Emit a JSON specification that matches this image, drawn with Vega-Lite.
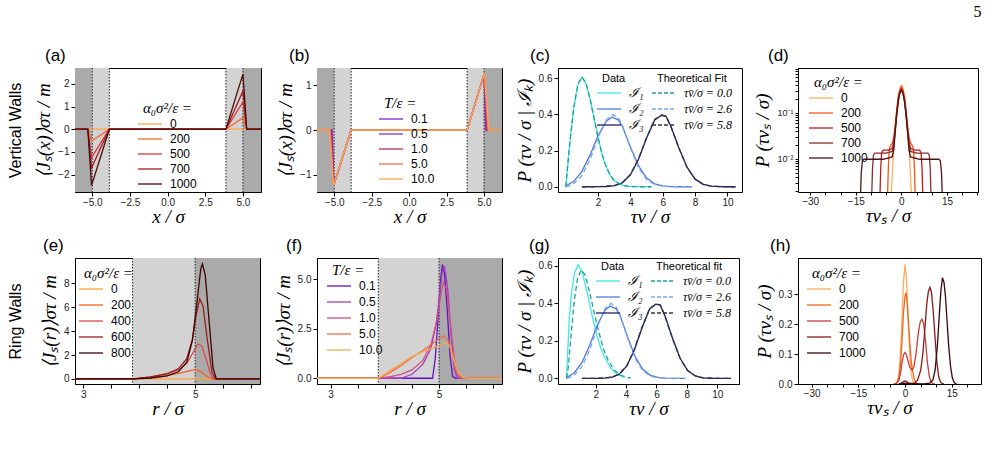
{
"$schema":"https://vega.github.io/schema/vega-lite/v6.json",
"background":"white",
"padding":{"left":6,"top":4,"right":4,"bottom":4},
"title":{"text":"5","anchor":"end","font":"Liberation Serif","fontSize":16,"fontWeight":"normal","offset":26},
"config":{
 "view":{"stroke":"black","strokeWidth":1},
 "axis":{"grid":false,"domainColor":"black","tickColor":"black","tickSize":4,"labelFont":"Liberation Sans","labelFontSize":10,"labelColor":"#222","titleFont":"Liberation Serif","titleFontStyle":"italic","titleFontWeight":"normal","titleFontSize":19,"titleColor":"black","labelPadding":2,"titlePadding":4},
 "axisX":{"titlePadding":0,"labelPadding":1},
 "legend":{"orient":"none","padding":0,"labelFont":"Liberation Sans","labelFontSize":12,"titleFont":"Liberation Serif","titleFontStyle":"italic","titleFontWeight":"normal","titleFontSize":15,"titleColor":"black","labelColor":"black","symbolType":"M-2,0L2,0","symbolSize":144,"symbolStrokeWidth":1.6,"rowPadding":2,"titlePadding":1,"labelOffset":13,"titleLimit":300},
 "title":{"font":"Liberation Sans","fontSize":17,"fontWeight":"normal","color":"black"},
 "line":{"strokeWidth":1.3,"clip":true}
},
"datasets":{
 "wv":[{"x":-6.15,"x2":-5,"g":"d"},{"x":-5,"x2":-3.87,"g":"l"},{"x":3.87,"x2":5,"g":"l"},{"x":5,"x2":6.2,"g":"d"}],
 "wvl":[{"x":-5},{"x":-3.87},{"x":3.87},{"x":5}],
 "wr":[{"x":3.88,"x2":5,"g":"l"},{"x":5,"x2":6.16,"g":"d"}],
 "wrl":[{"x":3.88},{"x":5}],
 "rowlab":[{"r":0}],
 "a":[
  {"s":"0","x":-6.15,"y":0},{"s":"0","x":6.2,"y":0},
  {"s":"200","x":-6.15,"y":0},{"s":"200","x":-5.3,"y":0},{"s":"200","x":-5.05,"y":-0.52},{"s":"200","x":-3.87,"y":0},{"s":"200","x":3.87,"y":0},{"s":"200","x":5.0,"y":0.5},{"s":"200","x":5.25,"y":0},{"s":"200","x":6.2,"y":0},
  {"s":"500","x":-6.15,"y":0},{"s":"500","x":-5.3,"y":0},{"s":"500","x":-5.05,"y":-1.25},{"s":"500","x":-3.87,"y":0},{"s":"500","x":3.87,"y":0},{"s":"500","x":5.0,"y":1.2},{"s":"500","x":5.25,"y":0},{"s":"500","x":6.2,"y":0},
  {"s":"700","x":-6.15,"y":0},{"s":"700","x":-5.3,"y":0},{"s":"700","x":-5.05,"y":-1.7},{"s":"700","x":-3.87,"y":0},{"s":"700","x":3.87,"y":0},{"s":"700","x":5.0,"y":1.68},{"s":"700","x":5.25,"y":0},{"s":"700","x":6.2,"y":0},
  {"s":"1000","x":-6.15,"y":0},{"s":"1000","x":-5.3,"y":0},{"s":"1000","x":-5.05,"y":-2.48},{"s":"1000","x":-3.87,"y":0},{"s":"1000","x":3.87,"y":0},{"s":"1000","x":5.0,"y":2.43},{"s":"1000","x":5.25,"y":0},{"s":"1000","x":6.2,"y":0}
 ],
 "b":[
  {"s":"0.1","x":-6.15,"y":0},{"s":"0.1","x":-5.15,"y":0},{"s":"0.1","x":-5.02,"y":-1.22},{"s":"0.1","x":-3.87,"y":0},{"s":"0.1","x":3.87,"y":0},{"s":"0.1","x":5.0,"y":1.24},{"s":"0.1","x":5.12,"y":0},{"s":"0.1","x":6.2,"y":0},
  {"s":"0.5","x":-6.15,"y":0},{"s":"0.5","x":-5.18,"y":0},{"s":"0.5","x":-5.02,"y":-1.22},{"s":"0.5","x":-3.87,"y":0},{"s":"0.5","x":3.87,"y":0},{"s":"0.5","x":5.0,"y":1.24},{"s":"0.5","x":5.16,"y":0},{"s":"0.5","x":6.2,"y":0},
  {"s":"1.0","x":-6.15,"y":0},{"s":"1.0","x":-5.22,"y":0},{"s":"1.0","x":-5.03,"y":-1.22},{"s":"1.0","x":-3.87,"y":0},{"s":"1.0","x":3.87,"y":0},{"s":"1.0","x":5.01,"y":1.25},{"s":"1.0","x":5.2,"y":0},{"s":"1.0","x":6.2,"y":0},
  {"s":"5.0","x":-6.15,"y":0},{"s":"5.0","x":-5.27,"y":0},{"s":"5.0","x":-5.04,"y":-1.23},{"s":"5.0","x":-3.87,"y":0},{"s":"5.0","x":3.87,"y":0},{"s":"5.0","x":5.02,"y":1.26},{"s":"5.0","x":5.26,"y":0},{"s":"5.0","x":6.2,"y":0},
  {"s":"10.0","x":-6.15,"y":0},{"s":"10.0","x":-5.32,"y":0},{"s":"10.0","x":-5.05,"y":-1.24},{"s":"10.0","x":-3.87,"y":0},{"s":"10.0","x":3.87,"y":0},{"s":"10.0","x":5.03,"y":1.27},{"s":"10.0","x":5.32,"y":0},{"s":"10.0","x":6.2,"y":0}
 ],
 "cd":[
  {"s":"ℐ₁","x":0,"y":0},{"s":"ℐ₁","x":0.25,"y":0.242},{"s":"ℐ₁","x":0.5,"y":0.441},{"s":"ℐ₁","x":0.75,"y":0.566},{"s":"ℐ₁","x":1.0,"y":0.607},{"s":"ℐ₁","x":1.25,"y":0.572},{"s":"ℐ₁","x":1.5,"y":0.487},{"s":"ℐ₁","x":1.75,"y":0.379},{"s":"ℐ₁","x":2.0,"y":0.271},{"s":"ℐ₁","x":2.25,"y":0.179},{"s":"ℐ₁","x":2.5,"y":0.11},{"s":"ℐ₁","x":2.75,"y":0.063},{"s":"ℐ₁","x":3.0,"y":0.033},{"s":"ℐ₁","x":3.5,"y":0.008},{"s":"ℐ₁","x":4.0,"y":0.0013},{"s":"ℐ₁","x":4.5,"y":0.0002},{"s":"ℐ₁","x":5.3,"y":0},
  {"s":"ℐ₂","x":0,"y":0.004},{"s":"ℐ₂","x":0.5,"y":0.03},{"s":"ℐ₂","x":1.0,"y":0.085},{"s":"ℐ₂","x":1.5,"y":0.175},{"s":"ℐ₂","x":2.0,"y":0.283},{"s":"ℐ₂","x":2.5,"y":0.362},{"s":"ℐ₂","x":2.85,"y":0.385},{"s":"ℐ₂","x":3.25,"y":0.37},{"s":"ℐ₂","x":3.5,"y":0.335},{"s":"ℐ₂","x":4.0,"y":0.22},{"s":"ℐ₂","x":4.5,"y":0.115},{"s":"ℐ₂","x":5.0,"y":0.048},{"s":"ℐ₂","x":5.5,"y":0.016},{"s":"ℐ₂","x":6.0,"y":0.005},{"s":"ℐ₂","x":6.5,"y":0.001},{"s":"ℐ₂","x":7.0,"y":0},{"s":"ℐ₂","x":7.8,"y":0},
  {"s":"ℐ₃","x":1.0,"y":0},{"s":"ℐ₃","x":2.0,"y":0.0002},{"s":"ℐ₃","x":2.5,"y":0.0015},{"s":"ℐ₃","x":3.0,"y":0.006},{"s":"ℐ₃","x":3.5,"y":0.022},{"s":"ℐ₃","x":4.0,"y":0.066},{"s":"ℐ₃","x":4.5,"y":0.152},{"s":"ℐ₃","x":5.0,"y":0.27},{"s":"ℐ₃","x":5.5,"y":0.37},{"s":"ℐ₃","x":5.9,"y":0.395},{"s":"ℐ₃","x":6.2,"y":0.39},{"s":"ℐ₃","x":6.5,"y":0.335},{"s":"ℐ₃","x":7.0,"y":0.215},{"s":"ℐ₃","x":7.5,"y":0.108},{"s":"ℐ₃","x":8.0,"y":0.042},{"s":"ℐ₃","x":8.5,"y":0.013},{"s":"ℐ₃","x":9.0,"y":0.003},{"s":"ℐ₃","x":9.5,"y":0.0005},{"s":"ℐ₃","x":10.0,"y":0},{"s":"ℐ₃","x":10.5,"y":0}
 ],
 "cf":[
  {"s":"τv̄/σ = 0.0","x":0,"y":0},{"s":"τv̄/σ = 0.0","x":0.25,"y":0.242},{"s":"τv̄/σ = 0.0","x":0.5,"y":0.441},{"s":"τv̄/σ = 0.0","x":0.75,"y":0.566},{"s":"τv̄/σ = 0.0","x":1.0,"y":0.607},{"s":"τv̄/σ = 0.0","x":1.25,"y":0.572},{"s":"τv̄/σ = 0.0","x":1.5,"y":0.487},{"s":"τv̄/σ = 0.0","x":1.75,"y":0.379},{"s":"τv̄/σ = 0.0","x":2.0,"y":0.271},{"s":"τv̄/σ = 0.0","x":2.25,"y":0.179},{"s":"τv̄/σ = 0.0","x":2.5,"y":0.11},{"s":"τv̄/σ = 0.0","x":2.75,"y":0.063},{"s":"τv̄/σ = 0.0","x":3.0,"y":0.033},{"s":"τv̄/σ = 0.0","x":3.5,"y":0.008},{"s":"τv̄/σ = 0.0","x":4.0,"y":0.0013},{"s":"τv̄/σ = 0.0","x":4.5,"y":0.0002},{"s":"τv̄/σ = 0.0","x":5.3,"y":0},
  {"s":"τv̄/σ = 2.6","x":0,"y":0},{"s":"τv̄/σ = 2.6","x":0.25,"y":0.006},{"s":"τv̄/σ = 2.6","x":0.5,"y":0.018},{"s":"τv̄/σ = 2.6","x":1.0,"y":0.062},{"s":"τv̄/σ = 2.6","x":1.5,"y":0.15},{"s":"τv̄/σ = 2.6","x":2.0,"y":0.272},{"s":"τv̄/σ = 2.6","x":2.5,"y":0.37},{"s":"τv̄/σ = 2.6","x":2.9,"y":0.4},{"s":"τv̄/σ = 2.6","x":3.25,"y":0.38},{"s":"τv̄/σ = 2.6","x":3.5,"y":0.34},{"s":"τv̄/σ = 2.6","x":4.0,"y":0.215},{"s":"τv̄/σ = 2.6","x":4.5,"y":0.105},{"s":"τv̄/σ = 2.6","x":5.0,"y":0.04},{"s":"τv̄/σ = 2.6","x":5.5,"y":0.012},{"s":"τv̄/σ = 2.6","x":6.0,"y":0.003},{"s":"τv̄/σ = 2.6","x":6.5,"y":0.0005},{"s":"τv̄/σ = 2.6","x":7.0,"y":0},{"s":"τv̄/σ = 2.6","x":7.8,"y":0},
  {"s":"τv̄/σ = 5.8","x":1.0,"y":0},{"s":"τv̄/σ = 5.8","x":2.0,"y":0.0002},{"s":"τv̄/σ = 5.8","x":3.0,"y":0.006},{"s":"τv̄/σ = 5.8","x":3.5,"y":0.023},{"s":"τv̄/σ = 5.8","x":4.0,"y":0.068},{"s":"τv̄/σ = 5.8","x":4.5,"y":0.155},{"s":"τv̄/σ = 5.8","x":5.0,"y":0.273},{"s":"τv̄/σ = 5.8","x":5.5,"y":0.372},{"s":"τv̄/σ = 5.8","x":5.95,"y":0.397},{"s":"τv̄/σ = 5.8","x":6.2,"y":0.39},{"s":"τv̄/σ = 5.8","x":6.5,"y":0.333},{"s":"τv̄/σ = 5.8","x":7.0,"y":0.213},{"s":"τv̄/σ = 5.8","x":7.5,"y":0.107},{"s":"τv̄/σ = 5.8","x":8.0,"y":0.042},{"s":"τv̄/σ = 5.8","x":8.5,"y":0.013},{"s":"τv̄/σ = 5.8","x":9.0,"y":0.003},{"s":"τv̄/σ = 5.8","x":10.0,"y":0},{"s":"τv̄/σ = 5.8","x":10.5,"y":0}
 ],
 "d":[
  {"s":"0","x":-3.5,"y":0.0009},{"s":"0","x":-3,"y":0.0044},{"s":"0","x":-2.5,"y":0.0175},{"s":"0","x":-2,"y":0.054},{"s":"0","x":-1.5,"y":0.13},{"s":"0","x":-1,"y":0.243},{"s":"0","x":-0.5,"y":0.353},{"s":"0","x":0,"y":0.4},{"s":"0","x":0.5,"y":0.353},{"s":"0","x":1,"y":0.243},{"s":"0","x":1.5,"y":0.13},{"s":"0","x":2,"y":0.054},{"s":"0","x":2.5,"y":0.0175},{"s":"0","x":3,"y":0.0044},{"s":"0","x":3.5,"y":0.0009},
  {"s":"200","x":-4.6,"y":0.0012},{"s":"200","x":-4.3,"y":0.006},{"s":"200","x":-4.0,"y":0.016},{"s":"200","x":-3.5,"y":0.02},{"s":"200","x":-3,"y":0.022},{"s":"200","x":-2.5,"y":0.03},{"s":"200","x":-2,"y":0.055},{"s":"200","x":-1.5,"y":0.115},{"s":"200","x":-1,"y":0.22},{"s":"200","x":-0.5,"y":0.32},{"s":"200","x":0,"y":0.37},{"s":"200","x":0.5,"y":0.32},{"s":"200","x":1,"y":0.22},{"s":"200","x":1.5,"y":0.115},{"s":"200","x":2,"y":0.055},{"s":"200","x":2.5,"y":0.03},{"s":"200","x":3,"y":0.022},{"s":"200","x":3.5,"y":0.02},{"s":"200","x":4.0,"y":0.016},{"s":"200","x":4.3,"y":0.006},{"s":"200","x":4.6,"y":0.0012},
  {"s":"500","x":-7.1,"y":0.0012},{"s":"500","x":-6.8,"y":0.006},{"s":"500","x":-6.5,"y":0.0135},{"s":"500","x":-6,"y":0.0155},{"s":"500","x":-4,"y":0.0155},{"s":"500","x":-3,"y":0.017},{"s":"500","x":-2.5,"y":0.024},{"s":"500","x":-2,"y":0.048},{"s":"500","x":-1.5,"y":0.105},{"s":"500","x":-1,"y":0.2},{"s":"500","x":-0.5,"y":0.29},{"s":"500","x":0,"y":0.34},{"s":"500","x":0.5,"y":0.29},{"s":"500","x":1,"y":0.2},{"s":"500","x":1.5,"y":0.105},{"s":"500","x":2,"y":0.048},{"s":"500","x":2.5,"y":0.024},{"s":"500","x":3,"y":0.017},{"s":"500","x":4,"y":0.0155},{"s":"500","x":6,"y":0.0155},{"s":"500","x":6.5,"y":0.0135},{"s":"500","x":6.8,"y":0.006},{"s":"500","x":7.1,"y":0.0012},
  {"s":"700","x":-9.8,"y":0.0012},{"s":"700","x":-9.5,"y":0.006},{"s":"700","x":-9.2,"y":0.012},{"s":"700","x":-8.7,"y":0.0133},{"s":"700","x":-5,"y":0.0133},{"s":"700","x":-3,"y":0.0145},{"s":"700","x":-2.5,"y":0.02},{"s":"700","x":-2,"y":0.044},{"s":"700","x":-1.5,"y":0.1},{"s":"700","x":-1,"y":0.19},{"s":"700","x":-0.5,"y":0.28},{"s":"700","x":0,"y":0.32},{"s":"700","x":0.5,"y":0.28},{"s":"700","x":1,"y":0.19},{"s":"700","x":1.5,"y":0.1},{"s":"700","x":2,"y":0.044},{"s":"700","x":2.5,"y":0.02},{"s":"700","x":3,"y":0.0145},{"s":"700","x":5,"y":0.0133},{"s":"700","x":8.7,"y":0.0133},{"s":"700","x":9.2,"y":0.012},{"s":"700","x":9.5,"y":0.006},{"s":"700","x":9.8,"y":0.0012},
  {"s":"1000","x":-13.5,"y":0.0012},{"s":"1000","x":-13.2,"y":0.005},{"s":"1000","x":-12.8,"y":0.0092},{"s":"1000","x":-12.3,"y":0.0098},{"s":"1000","x":-6,"y":0.0098},{"s":"1000","x":-3,"y":0.011},{"s":"1000","x":-2.5,"y":0.016},{"s":"1000","x":-2,"y":0.04},{"s":"1000","x":-1.5,"y":0.095},{"s":"1000","x":-1,"y":0.18},{"s":"1000","x":-0.5,"y":0.27},{"s":"1000","x":0,"y":0.31},{"s":"1000","x":0.5,"y":0.27},{"s":"1000","x":1,"y":0.18},{"s":"1000","x":1.5,"y":0.095},{"s":"1000","x":2,"y":0.04},{"s":"1000","x":2.5,"y":0.016},{"s":"1000","x":3,"y":0.011},{"s":"1000","x":6,"y":0.0098},{"s":"1000","x":12.3,"y":0.0098},{"s":"1000","x":12.8,"y":0.0092},{"s":"1000","x":13.2,"y":0.005},{"s":"1000","x":13.5,"y":0.0012}
 ],
 "e":[
  {"s":"0","x":2.85,"y":0},{"s":"0","x":6.16,"y":0},
  {"s":"200","x":2.85,"y":0},{"s":"200","x":3.9,"y":0},{"s":"200","x":4.2,"y":0.1},{"s":"200","x":4.5,"y":0.28},{"s":"200","x":4.8,"y":0.58},{"s":"200","x":5.0,"y":0.8},{"s":"200","x":5.1,"y":0.62},{"s":"200","x":5.2,"y":0.25},{"s":"200","x":5.3,"y":0.02},{"s":"200","x":5.4,"y":0},{"s":"200","x":6.16,"y":0},
  {"s":"400","x":2.85,"y":0},{"s":"400","x":3.9,"y":0},{"s":"400","x":4.2,"y":0.15},{"s":"400","x":4.5,"y":0.42},{"s":"400","x":4.7,"y":0.75},{"s":"400","x":4.85,"y":1.3},{"s":"400","x":4.95,"y":2.1},{"s":"400","x":5.05,"y":2.93},{"s":"400","x":5.12,"y":2.75},{"s":"400","x":5.2,"y":1.6},{"s":"400","x":5.27,"y":0.45},{"s":"400","x":5.33,"y":0},{"s":"400","x":6.16,"y":0},
  {"s":"600","x":2.85,"y":0},{"s":"600","x":3.9,"y":0},{"s":"600","x":4.2,"y":0.18},{"s":"600","x":4.5,"y":0.45},{"s":"600","x":4.7,"y":0.85},{"s":"600","x":4.85,"y":1.7},{"s":"600","x":4.95,"y":3.3},{"s":"600","x":5.02,"y":5.4},{"s":"600","x":5.08,"y":6.7},{"s":"600","x":5.14,"y":6.1},{"s":"600","x":5.22,"y":3.2},{"s":"600","x":5.3,"y":0.6},{"s":"600","x":5.36,"y":0},{"s":"600","x":6.16,"y":0},
  {"s":"800","x":2.85,"y":0},{"s":"800","x":3.9,"y":0},{"s":"800","x":4.2,"y":0.08},{"s":"800","x":4.5,"y":0.25},{"s":"800","x":4.7,"y":0.6},{"s":"800","x":4.85,"y":1.4},{"s":"800","x":4.95,"y":3.2},{"s":"800","x":5.03,"y":6.3},{"s":"800","x":5.1,"y":9.2},{"s":"800","x":5.13,"y":9.6},{"s":"800","x":5.18,"y":8.7},{"s":"800","x":5.25,"y":4.8},{"s":"800","x":5.32,"y":0.9},{"s":"800","x":5.38,"y":0},{"s":"800","x":6.16,"y":0}
 ],
 "f":[
  {"s":"0.1","x":2.75,"y":0},{"s":"0.1","x":4.88,"y":0},{"s":"0.1","x":4.93,"y":1.0},{"s":"0.1","x":4.98,"y":3.0},{"s":"0.1","x":5.03,"y":5.0},{"s":"0.1","x":5.06,"y":5.75},{"s":"0.1","x":5.1,"y":5.3},{"s":"0.1","x":5.15,"y":3.5},{"s":"0.1","x":5.2,"y":1.2},{"s":"0.1","x":5.25,"y":0.1},{"s":"0.1","x":5.3,"y":0},{"s":"0.1","x":6.16,"y":0},
  {"s":"0.5","x":2.75,"y":0},{"s":"0.5","x":4.3,"y":0},{"s":"0.5","x":4.5,"y":0.2},{"s":"0.5","x":4.7,"y":0.7},{"s":"0.5","x":4.85,"y":1.5},{"s":"0.5","x":4.95,"y":2.8},{"s":"0.5","x":5.02,"y":4.5},{"s":"0.5","x":5.07,"y":5.6},{"s":"0.5","x":5.1,"y":5.65},{"s":"0.5","x":5.16,"y":4.5},{"s":"0.5","x":5.22,"y":2.2},{"s":"0.5","x":5.28,"y":0.5},{"s":"0.5","x":5.33,"y":0},{"s":"0.5","x":6.16,"y":0},
  {"s":"1.0","x":2.75,"y":0},{"s":"1.0","x":3.88,"y":0},{"s":"1.0","x":4.1,"y":0.08},{"s":"1.0","x":4.3,"y":0.2},{"s":"1.0","x":4.5,"y":0.42},{"s":"1.0","x":4.7,"y":0.9},{"s":"1.0","x":4.85,"y":1.7},{"s":"1.0","x":4.95,"y":2.8},{"s":"1.0","x":5.03,"y":4.2},{"s":"1.0","x":5.08,"y":4.85},{"s":"1.0","x":5.14,"y":4.5},{"s":"1.0","x":5.2,"y":3.0},{"s":"1.0","x":5.27,"y":1.2},{"s":"1.0","x":5.33,"y":0.2},{"s":"1.0","x":5.4,"y":0},{"s":"1.0","x":6.16,"y":0},
  {"s":"5.0","x":2.75,"y":0},{"s":"5.0","x":3.88,"y":0},{"s":"5.0","x":4.1,"y":0.3},{"s":"5.0","x":4.3,"y":0.65},{"s":"5.0","x":4.5,"y":1.05},{"s":"5.0","x":4.7,"y":1.4},{"s":"5.0","x":4.9,"y":1.8},{"s":"5.0","x":5.0,"y":2.0},{"s":"5.0","x":5.09,"y":2.14},{"s":"5.0","x":5.17,"y":1.9},{"s":"5.0","x":5.25,"y":1.1},{"s":"5.0","x":5.32,"y":0.4},{"s":"5.0","x":5.42,"y":0.05},{"s":"5.0","x":5.5,"y":0},{"s":"5.0","x":6.16,"y":0},
  {"s":"10.0","x":2.75,"y":0},{"s":"10.0","x":3.88,"y":0},{"s":"10.0","x":4.1,"y":0.4},{"s":"10.0","x":4.3,"y":0.75},{"s":"10.0","x":4.5,"y":1.1},{"s":"10.0","x":4.7,"y":1.35},{"s":"10.0","x":4.9,"y":1.55},{"s":"10.0","x":5.05,"y":1.72},{"s":"10.0","x":5.12,"y":1.8},{"s":"10.0","x":5.2,"y":1.6},{"s":"10.0","x":5.28,"y":0.9},{"s":"10.0","x":5.35,"y":0.3},{"s":"10.0","x":5.45,"y":0.03},{"s":"10.0","x":5.55,"y":0},{"s":"10.0","x":6.16,"y":0}
 ],
 "gd":[
  {"s":"ℐ₁","x":0.08,"y":0},{"s":"ℐ₁","x":0.15,"y":0.12},{"s":"ℐ₁","x":0.25,"y":0.3},{"s":"ℐ₁","x":0.4,"y":0.45},{"s":"ℐ₁","x":0.6,"y":0.56},{"s":"ℐ₁","x":0.84,"y":0.605},{"s":"ℐ₁","x":1.1,"y":0.57},{"s":"ℐ₁","x":1.4,"y":0.47},{"s":"ℐ₁","x":1.7,"y":0.36},{"s":"ℐ₁","x":2.0,"y":0.25},{"s":"ℐ₁","x":2.3,"y":0.17},{"s":"ℐ₁","x":2.6,"y":0.11},{"s":"ℐ₁","x":3.0,"y":0.055},{"s":"ℐ₁","x":3.4,"y":0.022},{"s":"ℐ₁","x":3.9,"y":0.005},
  {"s":"ℐ₂","x":0.1,"y":0.004},{"s":"ℐ₂","x":0.6,"y":0.03},{"s":"ℐ₂","x":1.1,"y":0.085},{"s":"ℐ₂","x":1.6,"y":0.175},{"s":"ℐ₂","x":2.1,"y":0.283},{"s":"ℐ₂","x":2.6,"y":0.362},{"s":"ℐ₂","x":2.95,"y":0.385},{"s":"ℐ₂","x":3.35,"y":0.37},{"s":"ℐ₂","x":3.6,"y":0.335},{"s":"ℐ₂","x":4.1,"y":0.22},{"s":"ℐ₂","x":4.6,"y":0.115},{"s":"ℐ₂","x":5.1,"y":0.048},{"s":"ℐ₂","x":5.6,"y":0.016},{"s":"ℐ₂","x":6.1,"y":0.005},{"s":"ℐ₂","x":6.6,"y":0.001},{"s":"ℐ₂","x":7.1,"y":0},{"s":"ℐ₂","x":7.9,"y":0},
  {"s":"ℐ₃","x":1.1,"y":0},{"s":"ℐ₃","x":2.05,"y":0.0002},{"s":"ℐ₃","x":2.55,"y":0.0015},{"s":"ℐ₃","x":3.05,"y":0.006},{"s":"ℐ₃","x":3.55,"y":0.022},{"s":"ℐ₃","x":4.05,"y":0.066},{"s":"ℐ₃","x":4.55,"y":0.152},{"s":"ℐ₃","x":5.05,"y":0.27},{"s":"ℐ₃","x":5.55,"y":0.37},{"s":"ℐ₃","x":5.95,"y":0.395},{"s":"ℐ₃","x":6.25,"y":0.39},{"s":"ℐ₃","x":6.55,"y":0.335},{"s":"ℐ₃","x":7.05,"y":0.215},{"s":"ℐ₃","x":7.55,"y":0.108},{"s":"ℐ₃","x":8.05,"y":0.042},{"s":"ℐ₃","x":8.55,"y":0.013},{"s":"ℐ₃","x":9.05,"y":0.003},{"s":"ℐ₃","x":9.55,"y":0.0005},{"s":"ℐ₃","x":10.05,"y":0},{"s":"ℐ₃","x":10.9,"y":0}
 ],
 "gf":[
  {"s":"τv̄/σ = 0.0","x":0.08,"y":0},{"s":"τv̄/σ = 0.0","x":0.2,"y":0.06},{"s":"τv̄/σ = 0.0","x":0.4,"y":0.25},{"s":"τv̄/σ = 0.0","x":0.6,"y":0.42},{"s":"τv̄/σ = 0.0","x":0.8,"y":0.53},{"s":"τv̄/σ = 0.0","x":1.05,"y":0.578},{"s":"τv̄/σ = 0.0","x":1.3,"y":0.55},{"s":"τv̄/σ = 0.0","x":1.6,"y":0.46},{"s":"τv̄/σ = 0.0","x":1.9,"y":0.35},{"s":"τv̄/σ = 0.0","x":2.2,"y":0.25},{"s":"τv̄/σ = 0.0","x":2.5,"y":0.16},{"s":"τv̄/σ = 0.0","x":2.8,"y":0.1},{"s":"τv̄/σ = 0.0","x":3.2,"y":0.045},{"s":"τv̄/σ = 0.0","x":3.6,"y":0.018},{"s":"τv̄/σ = 0.0","x":4.0,"y":0.006},{"s":"τv̄/σ = 0.0","x":4.3,"y":0.002},
  {"s":"τv̄/σ = 2.6","x":0.1,"y":0},{"s":"τv̄/σ = 2.6","x":0.35,"y":0.006},{"s":"τv̄/σ = 2.6","x":0.6,"y":0.018},{"s":"τv̄/σ = 2.6","x":1.1,"y":0.062},{"s":"τv̄/σ = 2.6","x":1.6,"y":0.15},{"s":"τv̄/σ = 2.6","x":2.1,"y":0.272},{"s":"τv̄/σ = 2.6","x":2.6,"y":0.37},{"s":"τv̄/σ = 2.6","x":3.0,"y":0.4},{"s":"τv̄/σ = 2.6","x":3.35,"y":0.38},{"s":"τv̄/σ = 2.6","x":3.6,"y":0.34},{"s":"τv̄/σ = 2.6","x":4.1,"y":0.215},{"s":"τv̄/σ = 2.6","x":4.6,"y":0.105},{"s":"τv̄/σ = 2.6","x":5.1,"y":0.04},{"s":"τv̄/σ = 2.6","x":5.6,"y":0.012},{"s":"τv̄/σ = 2.6","x":6.1,"y":0.003},{"s":"τv̄/σ = 2.6","x":6.6,"y":0.0005},{"s":"τv̄/σ = 2.6","x":7.1,"y":0},{"s":"τv̄/σ = 2.6","x":7.9,"y":0},
  {"s":"τv̄/σ = 5.8","x":1.1,"y":0},{"s":"τv̄/σ = 5.8","x":2.05,"y":0.0002},{"s":"τv̄/σ = 5.8","x":3.05,"y":0.006},{"s":"τv̄/σ = 5.8","x":3.55,"y":0.023},{"s":"τv̄/σ = 5.8","x":4.05,"y":0.068},{"s":"τv̄/σ = 5.8","x":4.55,"y":0.155},{"s":"τv̄/σ = 5.8","x":5.05,"y":0.273},{"s":"τv̄/σ = 5.8","x":5.55,"y":0.372},{"s":"τv̄/σ = 5.8","x":6.0,"y":0.397},{"s":"τv̄/σ = 5.8","x":6.25,"y":0.39},{"s":"τv̄/σ = 5.8","x":6.55,"y":0.333},{"s":"τv̄/σ = 5.8","x":7.05,"y":0.213},{"s":"τv̄/σ = 5.8","x":7.55,"y":0.107},{"s":"τv̄/σ = 5.8","x":8.05,"y":0.042},{"s":"τv̄/σ = 5.8","x":8.55,"y":0.013},{"s":"τv̄/σ = 5.8","x":9.05,"y":0.003},{"s":"τv̄/σ = 5.8","x":10.05,"y":0},{"s":"τv̄/σ = 5.8","x":10.9,"y":0}
 ],
 "h":[
  {"s":"0","x":-4,"y":0},{"s":"0","x":-3.5,"y":0.0002},{"s":"0","x":-3,"y":0.0015},{"s":"0","x":-2.5,"y":0.0084},{"s":"0","x":-2,"y":0.034},{"s":"0","x":-1.5,"y":0.1},{"s":"0","x":-1,"y":0.216},{"s":"0","x":-0.5,"y":0.343},{"s":"0","x":0,"y":0.4},{"s":"0","x":0.5,"y":0.343},{"s":"0","x":1,"y":0.216},{"s":"0","x":1.5,"y":0.1},{"s":"0","x":2,"y":0.034},{"s":"0","x":2.5,"y":0.0084},{"s":"0","x":3,"y":0.0015},{"s":"0","x":3.5,"y":0.0002},{"s":"0","x":4,"y":0},
  {"s":"200","x":-3.5,"y":0},{"s":"200","x":-3,"y":0.001},{"s":"200","x":-2.5,"y":0.005},{"s":"200","x":-2,"y":0.02},{"s":"200","x":-1.5,"y":0.06},{"s":"200","x":-1,"y":0.14},{"s":"200","x":-0.5,"y":0.24},{"s":"200","x":0,"y":0.295},{"s":"200","x":0.3,"y":0.305},{"s":"200","x":0.7,"y":0.27},{"s":"200","x":1,"y":0.22},{"s":"200","x":1.5,"y":0.14},{"s":"200","x":2,"y":0.075},{"s":"200","x":2.5,"y":0.04},{"s":"200","x":3,"y":0.015},{"s":"200","x":3.5,"y":0.004},{"s":"200","x":4,"y":0},
  {"s":"500","x":-3.5,"y":0},{"s":"500","x":-3,"y":0.001},{"s":"500","x":-2,"y":0.012},{"s":"500","x":-1.5,"y":0.035},{"s":"500","x":-1,"y":0.07},{"s":"500","x":-0.5,"y":0.098},{"s":"500","x":0,"y":0.105},{"s":"500","x":0.5,"y":0.095},{"s":"500","x":1,"y":0.075},{"s":"500","x":1.5,"y":0.057},{"s":"500","x":2.2,"y":0.047},{"s":"500","x":2.8,"y":0.055},{"s":"500","x":3.5,"y":0.1},{"s":"500","x":4.2,"y":0.165},{"s":"500","x":4.8,"y":0.205},{"s":"500","x":5.4,"y":0.217},{"s":"500","x":6,"y":0.2},{"s":"500","x":6.6,"y":0.14},{"s":"500","x":7.2,"y":0.07},{"s":"500","x":7.8,"y":0.025},{"s":"500","x":8.4,"y":0.006},{"s":"500","x":9,"y":0.001},{"s":"500","x":9.5,"y":0},
  {"s":"700","x":-2,"y":0},{"s":"700","x":-1,"y":0.004},{"s":"700","x":-0.5,"y":0.008},{"s":"700","x":0,"y":0.01},{"s":"700","x":0.5,"y":0.008},{"s":"700","x":1,"y":0.004},{"s":"700","x":2,"y":0.002},{"s":"700","x":3,"y":0.003},{"s":"700","x":4,"y":0.012},{"s":"700","x":5,"y":0.045},{"s":"700","x":5.7,"y":0.1},{"s":"700","x":6.4,"y":0.19},{"s":"700","x":7,"y":0.27},{"s":"700","x":7.5,"y":0.31},{"s":"700","x":8,"y":0.323},{"s":"700","x":8.5,"y":0.305},{"s":"700","x":9,"y":0.25},{"s":"700","x":9.6,"y":0.16},{"s":"700","x":10.2,"y":0.075},{"s":"700","x":10.8,"y":0.025},{"s":"700","x":11.4,"y":0.006},{"s":"700","x":12,"y":0.001},{"s":"700","x":12.5,"y":0},
  {"s":"1000","x":-2,"y":0},{"s":"1000","x":-1,"y":0.002},{"s":"1000","x":0,"y":0.003},{"s":"1000","x":1,"y":0.002},{"s":"1000","x":3,"y":0.001},{"s":"1000","x":6,"y":0},{"s":"1000","x":8,"y":0.003},{"s":"1000","x":9,"y":0.015},{"s":"1000","x":9.7,"y":0.05},{"s":"1000","x":10.4,"y":0.13},{"s":"1000","x":11,"y":0.23},{"s":"1000","x":11.5,"y":0.31},{"s":"1000","x":12,"y":0.355},{"s":"1000","x":12.5,"y":0.34},{"s":"1000","x":13,"y":0.29},{"s":"1000","x":13.5,"y":0.21},{"s":"1000","x":14,"y":0.13},{"s":"1000","x":14.6,"y":0.06},{"s":"1000","x":15.2,"y":0.02},{"s":"1000","x":15.8,"y":0.005},{"s":"1000","x":16.5,"y":0}
 ]
},
"columns":4,
"spacing":{"row":66,"column":56},
"bounds":"flush",
"resolve":{"scale":{"color":"independent","stroke":"independent","fill":"independent"},"legend":{"color":"independent","stroke":"independent"}},
"concat":[
 {"width":186,"height":124,
  "title":{"text":"(a)","anchor":"start","frame":"group","dx":-30,"offset":3},
  "encoding":{"x":{"field":"x","type":"quantitative","scale":{"domain":[-6.15,6.2],"nice":false,"zero":false},"axis":{"values":[-5,-2.5,0,2.5,5],"format":".1f","title":"x / σ"}}},
  "resolve":{"scale":{"y":"independent"}},
  "layer":[
   {"data":{"name":"wv"},"mark":{"type":"rect","clip":true},"encoding":{"x2":{"field":"x2"},"fill":{"field":"g","type":"nominal","scale":{"domain":["d","l"],"range":["#aaaaaa","#d3d3d3"]},"legend":null}}},
   {"data":{"name":"wvl"},"mark":{"type":"rule","strokeDash":[1.5,1.5],"color":"#222","strokeWidth":1},"encoding":{}},
   {"data":{"name":"a"},"mark":{"type":"line","clip":true},"encoding":{"y":{"field":"y","type":"quantitative","scale":{"domain":[-2.77,2.7],"nice":false,"zero":false},"axis":{"values":[-2,-1,0,1,2],"title":"⟨Jₛ(x)⟩στ / m"}},"color":{"field":"s","type":"nominal","scale":{"domain":["0","200","500","700","1000"],"range":["#fca54a","#f46a2e","#d6373b","#a31e22","#4a0808"]},"legend":{"title":"α₀σ²/ε =","legendX":68,"legendY":33}}}},
   {"data":{"name":"rowlab"},"mark":{"type":"rule","opacity":0},"encoding":{"y":{"field":"r","type":"quantitative","axis":{"orient":"left","offset":52,"title":"Vertical Walls","labels":false,"ticks":false,"domain":false,"titleFont":"Liberation Sans","titleFontStyle":"normal","titleFontSize":16,"titlePadding":0}}}}
  ]},
 {"width":185,"height":124,
  "title":{"text":"(b)","anchor":"start","frame":"group","dx":-28,"offset":3},
  "encoding":{"x":{"field":"x","type":"quantitative","scale":{"domain":[-6.15,6.2],"nice":false,"zero":false},"axis":{"values":[-5,-2.5,0,2.5,5],"format":".1f","title":"x / σ"}}},
  "layer":[
   {"data":{"name":"wv"},"mark":{"type":"rect","clip":true},"encoding":{"x2":{"field":"x2"},"fill":{"field":"g","type":"nominal","scale":{"domain":["d","l"],"range":["#aaaaaa","#d3d3d3"]},"legend":null}}},
   {"data":{"name":"wvl"},"mark":{"type":"rule","strokeDash":[1.5,1.5],"color":"#222","strokeWidth":1},"encoding":{}},
   {"data":{"name":"b"},"mark":{"type":"line","clip":true},"encoding":{"y":{"field":"y","type":"quantitative","scale":{"domain":[-1.38,1.38],"nice":false,"zero":false},"axis":{"values":[-1,0,1],"title":"⟨Jₛ(x)⟩στ / m"}},"color":{"field":"s","type":"nominal","scale":{"domain":["0.1","0.5","1.0","5.0","10.0"],"range":["#7f1fd0","#9a2fb8","#c8246a","#f0705a","#fba54b"]},"legend":{"title":"T/ε =","legendX":67,"legendY":28}}}}
  ]},
 {"width":184,"height":124,
  "title":{"text":"(c)","anchor":"start","frame":"group","dx":-28,"offset":3},
  "encoding":{"x":{"field":"x","type":"quantitative","scale":{"domain":[-0.48,10.9],"nice":false,"zero":false},"axis":{"values":[2,4,6,8,10],"title":"τv / σ"}},
              "y":{"field":"y","type":"quantitative","scale":{"domain":[-0.029,0.657],"nice":false,"zero":false},"axis":{"values":[0,0.2,0.4,0.6],"format":".1f","title":"P (τv / σ | ℐₖ)"}}},
  "resolve":{"scale":{"color":"independent","stroke":"independent"}},
  "layer":[
   {"data":{"name":"cd"},"mark":{"type":"line","clip":true},"encoding":{"color":{"field":"s","type":"nominal","scale":{"domain":["ℐ₁","ℐ₂","ℐ₃"],"range":["#3ee8e8","#4f78e0","#1b1f6b"]},"legend":{"title":"Data","titleFont":"Liberation Sans","titleFontStyle":"normal","titleFontSize":11,"labelFont":"Liberation Serif","labelFontStyle":"italic","labelFontSize":13,"titlePadding":2,"rowPadding":2,"legendX":44,"legendY":5}}}},
   {"data":{"name":"cf"},"mark":{"type":"line","clip":true,"strokeDash":[5,3]},"encoding":{"stroke":{"field":"s","type":"nominal","scale":{"domain":["τv̄/σ = 0.0","τv̄/σ = 2.6","τv̄/σ = 5.8"],"range":["#1e9e9e","#7aa6f0","#333340"]},"legend":{"title":"Theoretical Fit","titleFont":"Liberation Sans","titleFontStyle":"normal","titleFontSize":11,"labelFont":"Liberation Serif","labelFontStyle":"italic","labelFontSize":12,"titlePadding":2,"rowPadding":3,"symbolDash":[4,2],"legendX":99,"legendY":5}}}}
  ]},
 {"width":180,"height":124,
  "title":{"text":"(d)","anchor":"start","frame":"group","dx":-30,"offset":3},
  "data":{"name":"d"},
  "mark":{"type":"line","clip":true},
  "encoding":{"x":{"field":"x","type":"quantitative","scale":{"domain":[-34,25.2],"nice":false,"zero":false},"axis":{"values":[-30,-25,-20,-15,-10,-5,0,5,10,15,20,25],"labelExpr":"datum.value % 15 == 0 ? format(datum.value, 'd') : ''","tickSize":3,"title":"τvₛ / σ"}},
              "y":{"field":"y","type":"quantitative","scale":{"type":"log","domain":[0.0019,0.95],"nice":false},"axis":{"values":[0.002,0.003,0.004,0.005,0.006,0.007,0.008,0.009,0.01,0.02,0.03,0.04,0.05,0.06,0.07,0.08,0.09,0.1,0.2,0.3,0.4,0.5,0.6,0.7,0.8,0.9],"labelExpr":"datum.value == 0.1 ? '10⁻¹' : (datum.value == 0.01 ? '10⁻²' : '')","tickSize":3,"labelFontSize":9,"title":"P (τvₛ / σ)"}},
              "color":{"field":"s","type":"nominal","scale":{"domain":["0","200","500","700","1000"],"range":["#fdae5a","#f0561e","#c41a1a","#8c2c2c","#4a1515"]},"legend":{"title":"α₀σ²/ε =","legendX":16,"legendY":7}}}},
 {"width":185,"height":126,
  "title":{"text":"(e)","anchor":"start","frame":"group","dx":-32,"offset":3},
  "encoding":{"x":{"field":"x","type":"quantitative","scale":{"domain":[2.85,6.16],"nice":false,"zero":false},"axis":{"values":[3,3.5,4,4.5,5,5.5,6],"labelExpr":"datum.value == 3 || datum.value == 5 ? format(datum.value, 'd') : ''","title":"r / σ"}}},
  "resolve":{"scale":{"y":"independent"}},
  "layer":[
   {"data":{"name":"wr"},"mark":{"type":"rect","clip":true},"encoding":{"x2":{"field":"x2"},"fill":{"field":"g","type":"nominal","scale":{"domain":["d","l"],"range":["#aaaaaa","#d3d3d3"]},"legend":null}}},
   {"data":{"name":"wrl"},"mark":{"type":"rule","strokeDash":[1.5,1.5],"color":"#222","strokeWidth":1},"encoding":{}},
   {"data":{"name":"e"},"mark":{"type":"line","clip":true},"encoding":{"y":{"field":"y","type":"quantitative","scale":{"domain":[-0.42,10.1],"nice":false,"zero":false},"axis":{"values":[0,2,4,6,8],"title":"⟨Jₛ(r)⟩στ / m"}},"color":{"field":"s","type":"nominal","scale":{"domain":["0","200","400","600","800"],"range":["#ffa030","#f8601a","#de4a4a","#9e1c1c","#3a0404"]},"legend":{"title":"α₀σ²/ε =","legendX":9,"legendY":8,"rowPadding":3}}}},
   {"data":{"name":"rowlab"},"mark":{"type":"rule","opacity":0},"encoding":{"y":{"field":"r","type":"quantitative","axis":{"orient":"left","offset":52,"title":"Ring Walls","labels":false,"ticks":false,"domain":false,"titleFont":"Liberation Sans","titleFontStyle":"normal","titleFontSize":16,"titlePadding":0}}}}
  ]},
 {"width":185,"height":126,
  "title":{"text":"(f)","anchor":"start","frame":"group","dx":-31,"offset":3},
  "encoding":{"x":{"field":"x","type":"quantitative","scale":{"domain":[2.75,6.16],"nice":false,"zero":false},"axis":{"values":[3,3.5,4,4.5,5,5.5,6],"labelExpr":"datum.value == 3 || datum.value == 5 ? format(datum.value, 'd') : ''","title":"r / σ"}}},
  "layer":[
   {"data":{"name":"wr"},"mark":{"type":"rect","clip":true},"encoding":{"x2":{"field":"x2"},"fill":{"field":"g","type":"nominal","scale":{"domain":["d","l"],"range":["#aaaaaa","#d3d3d3"]},"legend":null}}},
   {"data":{"name":"wrl"},"mark":{"type":"rule","strokeDash":[1.5,1.5],"color":"#222","strokeWidth":1},"encoding":{}},
   {"data":{"name":"f"},"mark":{"type":"line","clip":true},"encoding":{"y":{"field":"y","type":"quantitative","scale":{"domain":[-0.29,6.08],"nice":false,"zero":false},"axis":{"values":[0,2.5,5],"format":".1f","title":"⟨Jₛ(r)⟩στ / m"}},"color":{"field":"s","type":"nominal","scale":{"domain":["0.1","0.5","1.0","5.0","10.0"],"range":["#6a0dc0","#a43cc0","#d04e80","#f26a4a","#f8a848"]},"legend":{"title":"T/ε =","legendX":15,"legendY":5,"rowPadding":3}}}}
  ]},
 {"width":181,"height":126,
  "title":{"text":"(g)","anchor":"start","frame":"group","dx":-29,"offset":3},
  "encoding":{"x":{"field":"x","type":"quantitative","scale":{"domain":[-0.48,11.43],"nice":false,"zero":false},"axis":{"values":[2,4,6,8,10],"title":"τv / σ"}},
              "y":{"field":"y","type":"quantitative","scale":{"domain":[-0.03,0.641],"nice":false,"zero":false},"axis":{"values":[0,0.2,0.4,0.6],"format":".1f","title":"P (τv / σ | ℐₖ)"}}},
  "resolve":{"scale":{"color":"independent","stroke":"independent"}},
  "layer":[
   {"data":{"name":"gd"},"mark":{"type":"line","clip":true},"encoding":{"color":{"field":"s","type":"nominal","scale":{"domain":["ℐ₁","ℐ₂","ℐ₃"],"range":["#3ee8e8","#4f78e0","#1b1f6b"]},"legend":{"title":"Data","titleFont":"Liberation Sans","titleFontStyle":"normal","titleFontSize":11,"labelFont":"Liberation Serif","labelFontStyle":"italic","labelFontSize":13,"titlePadding":2,"rowPadding":2,"legendX":43,"legendY":3}}}},
   {"data":{"name":"gf"},"mark":{"type":"line","clip":true,"strokeDash":[5,3]},"encoding":{"stroke":{"field":"s","type":"nominal","scale":{"domain":["τv̄/σ = 0.0","τv̄/σ = 2.6","τv̄/σ = 5.8"],"range":["#1e9e9e","#7aa6f0","#333340"]},"legend":{"title":"Theoretical fit","titleFont":"Liberation Sans","titleFontStyle":"normal","titleFontSize":11,"labelFont":"Liberation Serif","labelFontStyle":"italic","labelFontSize":12,"titlePadding":2,"rowPadding":3,"symbolDash":[4,2],"legendX":98,"legendY":3}}}}
  ]},
 {"width":183,"height":126,
  "title":{"text":"(h)","anchor":"start","frame":"group","dx":-28,"offset":3},
  "data":{"name":"h"},
  "mark":{"type":"line","clip":true},
  "encoding":{"x":{"field":"x","type":"quantitative","scale":{"domain":[-34.4,24.4],"nice":false,"zero":false},"axis":{"values":[-30,-25,-20,-15,-10,-5,0,5,10,15,20],"labelExpr":"datum.value % 15 == 0 ? format(datum.value, 'd') : ''","tickSize":3,"title":"τvₛ / σ"}},
              "y":{"field":"y","type":"quantitative","scale":{"domain":[0,0.421],"nice":false,"zero":false},"axis":{"values":[0,0.1,0.2,0.3],"format":".1f","title":"P (τvₛ / σ)"}},
              "color":{"field":"s","type":"nominal","scale":{"domain":["0","200","500","700","1000"],"range":["#fdae5a","#f26522","#c83c3c","#8b1a1a","#3d0505"]},"legend":{"title":"α₀σ²/ε =","legendX":14,"legendY":8,"rowPadding":3}}}}
]
}
